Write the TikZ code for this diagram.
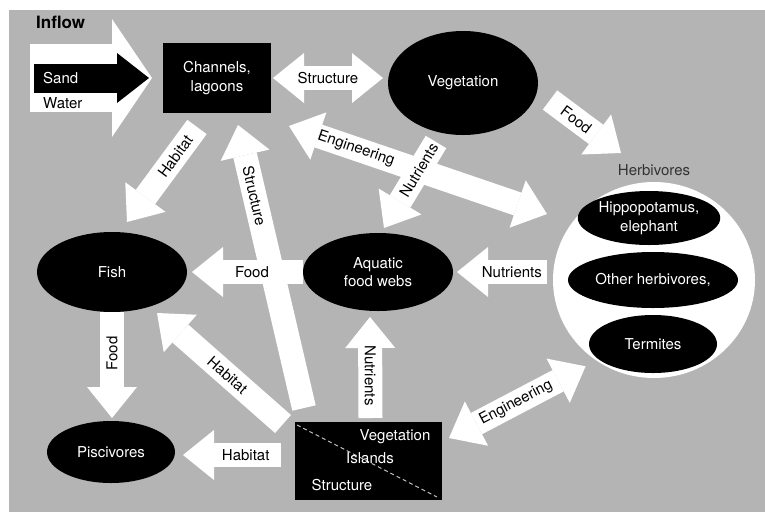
\documentclass[tikz,border=0pt]{standalone}
\usepackage{fontspec}
\setmainfont{TeX Gyre Heros}
\usetikzlibrary{arrows.meta}
\usetikzlibrary{shapes.geometric}
\definecolor{marsh}{RGB}{180,180,180}
\tikzset{blob/.style = {ellipse, fill=black, text=white, inner sep=0, outer sep=0, align=center}}
\tikzset{patch/.style = {rectangle, fill=black, text=white, inner sep=0, outer sep=0, align=center}}
\tikzset{flowarrow/.style = {draw=white, line width=24pt,
                             -{Triangle[width=50pt, length=31pt, line width=0pt]}}}
\tikzset{flowboth/.style = {draw=white, line width=24pt,
                            {Triangle[width=50pt, length=31pt, line width=0pt]}-{Triangle[width=50pt, length=31pt, line width=0pt]}}}
\tikzset{tag/.style = {text=black, inner sep=0, sloped}}
\tikzset{uptag/.style = {text=black, inner sep=0}}

\begin{document}
\begin{tikzpicture}[x=1pt, y=-1pt, every node/.style={font=\fontsize{15}{18.5}\selectfont}]
      \useasboundingbox (0,0) rectangle (765,512);
      \fill [marsh] (9,10) rectangle (765,512);

      \node [patch, minimum width=108pt, minimum height=70pt] (chan) at (217,78) {Channels,\\lagoons};
      \node [blob, minimum width=150pt, minimum height=104pt] (veg) at (463,83) {Vegetation};
      \node [blob, minimum width=150pt, minimum height=80pt] (fish) at (112,272) {Fish};
      \node [blob, minimum width=150pt, minimum height=78pt] (aqua) at (378,272) {Aquatic\\food webs};
      \node [blob, minimum width=128pt, minimum height=62pt] (pisc) at (111,452) {Piscivores};

      \node [patch, minimum width=147pt, minimum height=78pt] (isl) at (368.5,461) {};
      \draw [gray!50, line width=1pt, dash pattern=on 4pt off 3pt] ([shift={(2,3)}]isl.north west) -- ([shift={(-5,-3)}]isl.south east);
      \node [text=white, inner sep=0] (islveg) at (395,437) {Vegetation};
      \node [text=white, inner sep=0] (islname) at (370,458) {Islands};
      \node [text=white, inner sep=0] (islstr) at (342,485) {Structure};

      \node [ellipse, fill=white, inner sep=0, outer sep=0, minimum width=202pt, minimum height=196pt] (herb) at (654,280) {};
      \node [text=black!80] (herbname) at (654,170) {Herbivores};
      \node [blob, minimum width=120pt, minimum height=54pt] (hippo) at (649,218) {Hippopotamus,\\elephant};
      \node [blob, minimum width=170pt, minimum height=56pt] (other) at (653,280) {Other herbivores,};
      \node [blob, minimum width=128pt, minimum height=58pt] (term) at (653,344) {Termites};

      \node [font=\bfseries\fontsize{17}{20}\selectfont, anchor=west, inner sep=0] (inflowname) at (36,22) {Inflow};
      \coordinate (inflow) at (30,78);
      \draw [draw=white, line width=68pt, -{Triangle[width=118pt, length=40pt, line width=0pt]}] (inflow) -- ([xshift=-11pt]chan.west);
      \draw [draw=black, line width=29pt, -{Triangle[width=50pt, length=32pt, line width=0pt]}] ([xshift=4pt]inflow) -- ([xshift=-14pt]chan.west);
      \node [text=white, anchor=west, inner sep=0] (sand) at (43,78) {Sand};
      \node [anchor=west, inner sep=0] (water) at (43,103) {Water};

      \draw [flowboth] ([xshift=2pt]chan.east) -- ([shift={(-5,-5)}]veg.west) node [tag, midway] {Structure};
      \draw [flowarrow] ([shift={(-20,14)}]chan.south) -- ([shift={(15,-10)}]fish.north) node [tag, pos=0.31] {Habitat};
      \draw [flowarrow] ([shift={(9,-14)}]isl.north west) -- ([shift={(21,12)}]chan.south) node [tag, pos=0.75] {Structure};
      \draw [flowarrow] (aqua.west) -- ([xshift=5pt]fish.east) node [tag, pos=0.46] {Food};
      \draw [flowarrow] ([shift={(-12,2)}]isl.north west) -- ([shift={(45,1)}]fish.south) node [tag, pos=0.44] {Habitat};
      \draw [flowboth] ([shift={(18,13)}]chan.south east) -- ([shift={(-6,-66)}]herb.west) node [tag, pos=0.26] {Engineering};
      \draw [flowarrow] ([shift={(-27,7)}]veg.south) -- ([shift={(6,-5)}]aqua.north) node [tag, pos=0.33] {Nutrients};
      \draw [flowarrow] ([shift={(12,17)}]veg.east) -- ([shift={(-33,-29)}]herb.north) node [tag, pos=0.37] {Food};
      \draw [flowarrow] ([shift={(-6,-8)}]herb.west) -- ([xshift=4pt]aqua.east) node [tag, pos=0.39] {Nutrients};
      \draw [flowarrow] (fish.south) -- ([yshift=3pt]fish.south |- pisc.north) node [uptag, rotate=90, pos=0.39] {Food};
      \draw [flowarrow] ([shift={(-14,-6)}]isl.west) -- ([shift={(8,3)}]pisc.east) node [tag, pos=0.36] {Habitat};
      \draw [flowarrow] ([shift={(2,-4)}]isl.north) -- ([shift={(-8,6)}]aqua.south) node [uptag, rotate=-90, pos=0.42] {Nutrients};
      \draw [flowboth] ([shift={(7,-23)}]isl.east) -- ([shift={(3,17)}]herb.south west) node [tag, pos=0.49] {Engineering};
    \end{tikzpicture}
\end{document}
